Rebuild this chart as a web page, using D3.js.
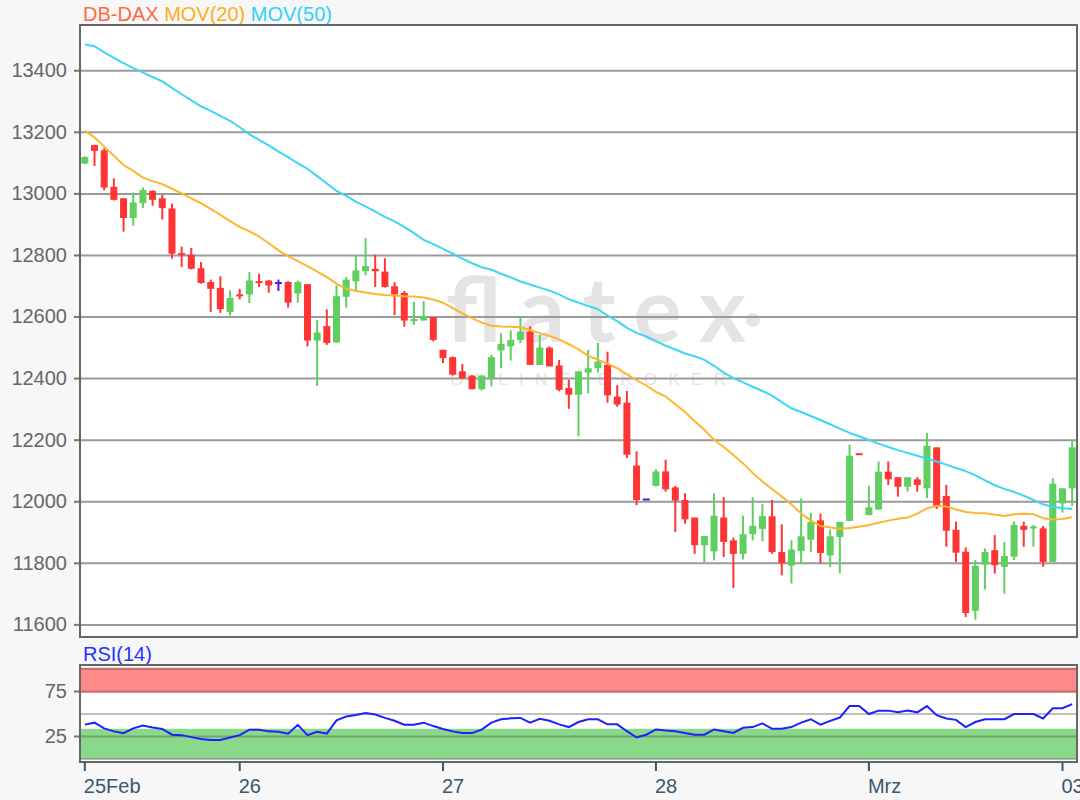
<!DOCTYPE html>
<html>
<head>
<meta charset="utf-8">
<script src="https://cdn.jsdelivr.net/npm/d3@7"></script>
<style>
    body { margin: 0; background: #f7f7f7; }
    svg { display: block; font-family: "Liberation Sans", Arial, sans-serif; }
</style>
</head>
<body>
<svg id="chart" width="1080" height="800"></svg>
<script>
//candle data (one candle per bar)
var openVals = [13097,13157,13140,13021,12984,12920,12968,13008,12984,12951,
    12806,12801,12757,12712,12693,12615,12672,12672,12715,12717,
    12712,12712,12675,12705,12522,12569,12516,12664,12715,12747,
    12755,12746,12698,12677,12587,12587,12598,12492,12468,12422,
    12408,12364,12400,12490,12503,12524,12551,12443,12499,12441,
    12368,12346,12418,12432,12443,12340,12320,12116,12009,12050,
    12097,12045,12004,11947,11857,11837,11947,11873,11829,11893,
    11910,11951,11835,11791,11838,11875,11938,11824,11884,11936,
    12156,11955,11973,12096,12078,12047,12071,12042,12175,12017,
    11907,11836,11644,11794,11841,11787,11820,11920,11915,11912,
    11803,11993,12042];
var highVals = [13121,13158,13147,13049,12985,13003,13019,13010,12995,12967,
    12827,12823,12777,12720,12731,12685,12690,12744,12739,12718,
    12720,12715,12717,12706,12589,12623,12701,12728,12800,12855,
    12801,12789,12712,12683,12648,12650,12598,12492,12470,12446,
    12410,12411,12476,12546,12555,12600,12568,12541,12503,12459,
    12395,12422,12492,12514,12486,12377,12358,12162,12009,12104,
    12135,12050,12026,11947,11887,12026,12013,11882,11953,12013,
    11992,12004,11925,11873,12009,11962,11960,11908,11933,12184,
    12156,12050,12129,12129,12078,12078,12078,12222,12175,12053,
    11934,11850,11809,11847,11890,11868,11934,11934,11923,11920,
    12075,12042,12195];
var lowVals = [13095,13089,13010,12977,12876,12895,12952,12960,12915,12788,
    12761,12753,12707,12615,12612,12604,12656,12644,12696,12677,
    12683,12629,12645,12503,12374,12508,12514,12629,12685,12734,
    12696,12694,12605,12567,12573,12587,12519,12449,12408,12397,
    12364,12360,12373,12432,12457,12514,12443,12443,12438,12357,
    12300,12211,12351,12418,12320,12307,12140,11987,12009,12048,
    12031,11900,11927,11829,11802,11808,11819,11718,11811,11873,
    11870,11829,11759,11733,11797,11835,11799,11786,11766,11936,
    12154,11955,11973,12053,12015,12031,12031,12010,11975,11852,
    11803,11624,11615,11713,11765,11700,11809,11852,11852,11787,
    11803,11963,11985];
var closeVals = [13118,13138,13019,12979,12920,12971,13011,12979,12952,12804,
    12801,12755,12709,12690,12624,12660,12668,12717,12711,12701,
    12712,12645,12712,12522,12548,12514,12666,12720,12750,12764,
    12747,12696,12672,12587,12592,12602,12524,12465,12411,12400,
    12364,12408,12468,12511,12524,12551,12443,12499,12438,12362,
    12346,12422,12432,12454,12344,12314,12151,12004,12009,12097,
    12039,12002,11941,11857,11887,11953,11868,11829,11893,11920,
    11952,11835,11799,11843,11886,11933,11832,11886,11933,12148,
    12154,11980,12096,12071,12047,12078,12053,12180,11985,11904,
    11833,11637,11790,11835,11792,11822,11923,11907,11918,11803,
    12057,12042,12175];

//moving averages, as drawn on the chart
var mov20 = [13204,13182,13152,13122,13092,13073,13051,13040,13030,13015,
    13000,12984,12968,12950,12930,12910,12891,12877,12860,12838,
    12815,12796,12780,12764,12746,12728,12707,12690,12683,12678,
    12673,12670,12668,12666,12665,12662,12655,12645,12627,12610,
    12595,12580,12570,12568,12567,12565,12556,12546,12537,12526,
    12510,12493,12472,12460,12447,12432,12412,12393,12376,12355,
    12340,12315,12290,12260,12232,12200,12176,12150,12123,12092,
    12064,12040,12015,11990,11960,11937,11920,11915,11911,11913,
    11917,11923,11930,11937,11943,11947,11960,11977,11985,11983,
    11973,11965,11962,11961,11956,11952,11958,11959,11958,11945,
    11941,11942,11948];
var mov50 = [13484,13478,13458,13440,13423,13407,13392,13378,13364,13343,
    13322,13302,13283,13268,13252,13236,13215,13192,13174,13156,
    13136,13118,13098,13080,13056,13032,13008,12992,12973,12958,
    12941,12924,12909,12891,12871,12849,12835,12820,12804,12788,
    12773,12760,12752,12739,12727,12714,12704,12694,12684,12672,
    12656,12645,12634,12624,12603,12585,12563,12547,12535,12520,
    12505,12493,12480,12471,12459,12440,12418,12400,12386,12372,
    12358,12343,12322,12302,12290,12277,12264,12250,12236,12222,
    12211,12199,12187,12176,12166,12157,12148,12138,12129,12119,
    12108,12098,12084,12068,12052,12040,12030,12018,12004,11990,
    11982,11977,11975];

//RSI(14)
var rsi14 = [37.6,39.8,33.4,30.1,28.0,33.4,36.6,34.4,32.8,26.4,
    25.9,23.7,21.6,20.5,20.5,23.2,25.9,32.0,32.0,30.1,
    29.7,27.5,37.4,25.9,29.6,27.5,42.4,46.7,48.3,50.5,
    48.9,45.1,41.9,37.6,37.6,39.8,36.0,32.8,30.1,28.2,
    28.2,32.0,39.8,43.5,44.6,45.1,39.8,44.0,41.9,37.9,
    34.9,40.5,43.6,43.6,37.9,37.9,30.3,23.3,26.4,32.2,
    31.0,30.3,28.3,26.4,26.4,32.2,30.3,28.3,34.1,34.9,
    39.1,33.0,33.0,34.9,39.9,43.6,37.5,41.8,45.5,58.3,
    58.3,49.4,53.2,53.2,51.3,53.2,51.3,58.3,48.2,44.5,
    42.9,34.9,40.5,43.6,43.6,43.6,49.4,49.4,49.4,44.5,
    55.9,55.9,60.5];

//axis ticks
var priceTicks = [11600, 11800, 12000, 12200, 12400, 12600, 12800, 13000, 13200, 13400];
var rsiTicks = [25, 75];
var rsiGrid = [0, 25, 50, 75, 100];
var dayStart = [0, 16, 37, 59, 81, 101]; //first bar of each day
var dayLabels = ["25Feb", "26", "27", "28", "Mrz", "03"];

drawChart();

function drawChart() {
    var svg = d3.select("#chart"),
        plotLeft = 80, plotRight = 1077,
        plotTop = 25, plotBottom = 637,
        rsiTop = 665, rsiBottom = 762,
        colorUp = "#5fcf5f", colorDown = "#ff3535", colorFlat = "#4422dd",
        colorMov20 = "#ffb52e", colorMov50 = "#3dd6f5";

    var x = d3.scaleBand()
        .domain(d3.range(openVals.length))
        .range([plotLeft, plotRight]);
    var mid = function (i) { return x(i) + x.bandwidth() / 2; };
    var y = d3.scaleLinear().domain([11559, 13547]).range([plotBottom, plotTop]);
    var yRsi = d3.scaleLinear().domain([-4, 104]).range([rsiBottom, rsiTop]);
    var bodyW = 7;

    //legend
    var legend = svg.append("text")
        .attr("x", 83).attr("y", 21)
        .style("font-size", "20px");
    legend.append("tspan").attr("fill", "#ff6a45").text("DB-DAX ");
    legend.append("tspan").attr("fill", "#ffae1a").text("MOV(20) ");
    legend.append("tspan").attr("fill", "#2fd2f5").text("MOV(50)");

    //price panel background
    svg.append("rect")
        .attr("x", plotLeft).attr("y", plotTop)
        .attr("width", plotRight - plotLeft).attr("height", plotBottom - plotTop)
        .attr("fill", "#fff");

    //flatex watermark
    var wm = svg.append("g").attr("fill", "#e4e4e4");
    wm.append("text")
        .attr("x", 446).attr("y", 342)
        .attr("textLength", 300).attr("lengthAdjust", "spacing")
        .style("font-family", "Lato, 'Open Sans', sans-serif")
        .style("font-weight", "bold")
        .style("font-size", "90px")
        .text("flatex");
    wm.append("circle").attr("cx", 753).attr("cy", 320).attr("r", 7);
    wm.append("text")
        .attr("x", 450).attr("y", 385)
        .attr("textLength", 276).attr("lengthAdjust", "spacing")
        .style("font-size", "17px")
        .text("ONLINE BROKER");

    //price grid
    svg.append("g")
        .attr("transform", "translate(" + plotLeft + ",0)")
        .call(d3.axisLeft(y).tickValues(priceTicks).tickSize(-(plotRight - plotLeft)).tickFormat(""))
        .call(function (g) {
            g.select(".domain").remove();
            g.selectAll("line").attr("stroke", "#9a9a9a").attr("stroke-width", 2);
        });

    //price axis labels
    svg.append("g")
        .attr("transform", "translate(" + plotLeft + ",0)")
        .call(d3.axisLeft(y).tickValues(priceTicks).tickSize(6).tickPadding(7).tickFormat(d3.format("d")))
        .call(function (g) {
            g.select(".domain").remove();
            g.selectAll("line").attr("stroke", "#777").attr("stroke-width", 2);
            g.selectAll("text").attr("fill", "#666")
                .style("font-size", "20px").style("font-family", "'Liberation Sans', Arial, sans-serif");
        });

    //candles
    var candles = svg.append("g")
        .selectAll("g")
        .data(d3.range(openVals.length))
        .join("g")
        .attr("fill", function (i) { return candleColor(i); })
        .attr("stroke", function (i) { return candleColor(i); });

    candles.append("line") //wick
        .attr("x1", mid).attr("x2", mid)
        .attr("y1", function (i) { return y(highVals[i]); })
        .attr("y2", function (i) { return y(lowVals[i]); })
        .attr("stroke-width", 2);

    candles.append("rect") //body
        .attr("x", function (i) { return mid(i) - bodyW / 2; })
        .attr("width", bodyW)
        .attr("y", function (i) { return y(Math.max(openVals[i], closeVals[i])); })
        .attr("height", function (i) {
            return Math.max(2, Math.abs(y(openVals[i]) - y(closeVals[i])));
        })
        .attr("stroke", "none");

    function candleColor(i) {
        if (closeVals[i] > openVals[i]) return colorUp;
        if (closeVals[i] < openVals[i]) return colorDown;
        return colorFlat;
    }

    //moving average lines
    var maLine = d3.line()
        .x(function (d, i) { return mid(i); })
        .y(function (d) { return y(d); });

    svg.append("path")
        .attr("d", maLine(mov50))
        .attr("fill", "none").attr("stroke", colorMov50).attr("stroke-width", 2);
    svg.append("path")
        .attr("d", maLine(mov20))
        .attr("fill", "none").attr("stroke", colorMov20).attr("stroke-width", 2);

    //price panel frame
    svg.append("rect")
        .attr("x", plotLeft).attr("y", plotTop)
        .attr("width", plotRight - plotLeft).attr("height", plotBottom - plotTop)
        .attr("fill", "none").attr("stroke", "#666").attr("stroke-width", 2);

    //RSI panel
    svg.append("text")
        .attr("x", 83).attr("y", 661)
        .attr("fill", "#2233ff")
        .style("font-size", "20px")
        .text("RSI(14)");

    svg.append("rect")
        .attr("x", plotLeft).attr("y", rsiTop)
        .attr("width", plotRight - plotLeft).attr("height", rsiBottom - rsiTop)
        .attr("fill", "#fff");

    //overbought / oversold bands
    svg.append("rect")
        .attr("x", plotLeft).attr("width", plotRight - plotLeft)
        .attr("y", yRsi(101)).attr("height", yRsi(73) - yRsi(101))
        .attr("fill", "#ff8a8a");
    svg.append("rect")
        .attr("x", plotLeft).attr("width", plotRight - plotLeft)
        .attr("y", yRsi(33)).attr("height", yRsi(-0.5) - yRsi(33))
        .attr("fill", "#8ad88a");

    svg.append("g")
        .attr("transform", "translate(" + plotLeft + ",0)")
        .call(d3.axisLeft(yRsi).tickValues(rsiGrid).tickSize(-(plotRight - plotLeft)).tickFormat(""))
        .call(function (g) {
            g.select(".domain").remove();
            g.selectAll("line").attr("stroke", "rgba(70,70,70,0.35)").attr("stroke-width", 2);
        });

    svg.append("g")
        .attr("transform", "translate(" + plotLeft + ",0)")
        .call(d3.axisLeft(yRsi).tickValues(rsiTicks).tickSize(6).tickPadding(7))
        .call(function (g) {
            g.select(".domain").remove();
            g.selectAll("line").attr("stroke", "#777").attr("stroke-width", 2);
            g.selectAll("text").attr("fill", "#666")
                .style("font-size", "20px").style("font-family", "'Liberation Sans', Arial, sans-serif");
        });

    var rsiLine = d3.line()
        .x(function (d, i) { return mid(i); })
        .y(function (d) { return yRsi(d); });

    svg.append("path")
        .attr("d", rsiLine(rsi14))
        .attr("fill", "none").attr("stroke", "#1f1fff").attr("stroke-width", 2);

    svg.append("rect")
        .attr("x", plotLeft).attr("y", rsiTop)
        .attr("width", plotRight - plotLeft).attr("height", rsiBottom - rsiTop)
        .attr("fill", "none").attr("stroke", "#666").attr("stroke-width", 2);

    //day axis under RSI panel (band scale puts ticks on bar centres)
    svg.append("g")
        .attr("transform", "translate(0," + rsiBottom + ")")
        .call(d3.axisBottom(x)
            .tickValues(dayStart)
            .tickSize(9).tickPadding(8)
            .tickFormat(function (d, k) { return dayLabels[k]; }))
        .call(function (g) {
            g.select(".domain").remove();
            g.selectAll("line").attr("stroke", "#3d556d").attr("stroke-width", 2);
            g.selectAll("text").attr("fill", "#3d556d")
                .attr("text-anchor", "start").attr("dx", "-1")
                .style("font-size", "20px").style("font-family", "'Liberation Sans', Arial, sans-serif");
        });
}
</script>
</body>
</html>
